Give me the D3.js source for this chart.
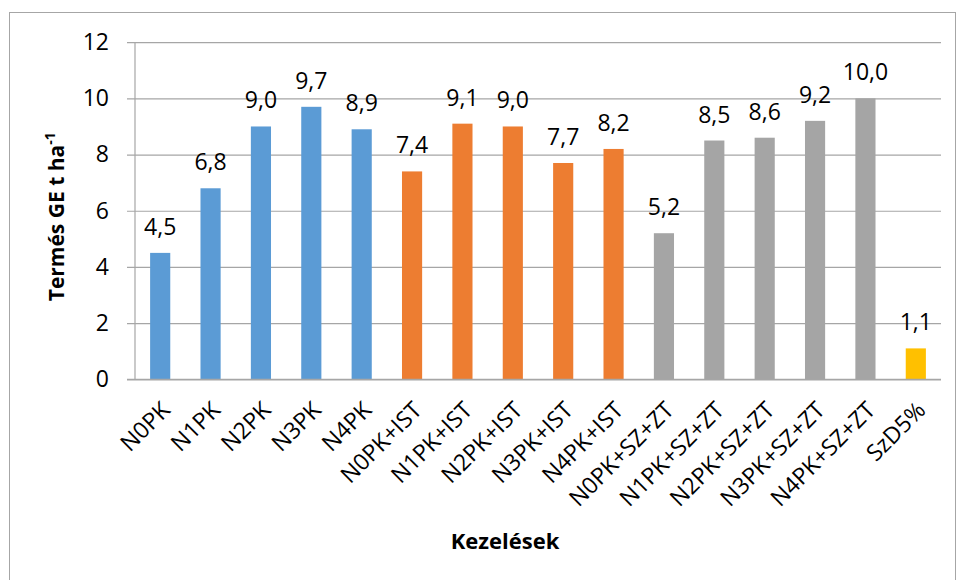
<!DOCTYPE html>
<html>
<head>
<meta charset="utf-8">
<script src="https://cdn.jsdelivr.net/npm/d3@7"></script>
<style>
  html, body { margin: 0; padding: 0; background: #fff; }
  svg { display: block; }
  text { font-family: "Open Sans", "Liberation Sans", sans-serif; fill: #000; }
</style>
</head>
<body>
<svg id="chart" width="957" height="580"></svg>
<script>
// Treatments and yields (t/ha)
const categories = [
  "N0PK", "N1PK", "N2PK", "N3PK", "N4PK",
  "N0PK+IST", "N1PK+IST", "N2PK+IST", "N3PK+IST", "N4PK+IST",
  "N0PK+SZ+ZT", "N1PK+SZ+ZT", "N2PK+SZ+ZT", "N3PK+SZ+ZT", "N4PK+SZ+ZT",
  "SzD5%"
];
const yields = [4.5, 6.8, 9.0, 9.7, 8.9, 7.4, 9.1, 9.0, 7.7, 8.2, 5.2, 8.5, 8.6, 9.2, 10.0, 1.1];
const groups = ["base", "base", "base", "base", "base",
  "ist", "ist", "ist", "ist", "ist",
  "szzt", "szzt", "szzt", "szzt", "szzt",
  "lsd"];
const groupColors = { base: "#5B9BD5", ist: "#ED7D31", szzt: "#A5A5A5", lsd: "#FFC000" };
const yTicks = [0, 2, 4, 6, 8, 10, 12];
const yTitle = "Termés GE t ha";
const xTitle = "Kezelések";

const svg = d3.select("#chart");
const W = 957, H = 580;
const plot = { left: 135, right: 941, top: 42.2, bottom: 379.3 };

// chart frame
svg.append("rect")
  .attr("x", 9.5).attr("y", 12.5)
  .attr("width", W - 11).attr("height", H + 20)
  .attr("fill", "none").attr("stroke", "#A6A6A6").attr("stroke-width", 1);

const x = d3.scaleBand()
  .domain(categories)
  .range([plot.left, plot.right])
  .paddingInner(0.6)
  .paddingOuter(0.3);

const y = d3.scaleLinear().domain([0, 12]).range([plot.bottom, plot.top]);

// gridlines + left axis ticks
const yAxis = d3.axisLeft(y).tickValues(yTicks).tickSize(-(plot.right - plot.left)).tickPadding(26).tickFormat(d3.format("d"));
const gy = svg.append("g").attr("transform", `translate(${plot.left},0)`).call(yAxis);
gy.select(".domain").remove();
gy.selectAll(".tick line").attr("stroke", "#A6A6A6").attr("stroke-width", 1.2).attr("x1", -8);
gy.selectAll(".tick text").attr("font-size", 23).attr("fill", "#000")
  .attr("font-family", "'Open Sans', sans-serif");

// vertical axis line
svg.append("line")
  .attr("x1", plot.left).attr("x2", plot.left)
  .attr("y1", plot.top).attr("y2", plot.bottom)
  .attr("stroke", "#A6A6A6").attr("stroke-width", 1.2);

// bars
svg.append("g").selectAll("rect")
  .data(categories)
  .join("rect")
  .attr("x", d => x(d))
  .attr("width", x.bandwidth())
  .attr("y", (d, i) => y(yields[i]))
  .attr("height", (d, i) => y(0) - y(yields[i]))
  .attr("fill", (d, i) => groupColors[groups[i]]);

// baseline drawn over the bars
svg.append("line")
  .attr("x1", plot.left - 8).attr("x2", plot.right)
  .attr("y1", y(0)).attr("y2", y(0))
  .attr("stroke", "#A6A6A6").attr("stroke-width", 1.2);

// value labels
const fmt = v => d3.format(".1f")(v).replace(".", ",");
svg.append("g").selectAll("text")
  .data(categories)
  .join("text")
  .attr("x", d => x(d) + x.bandwidth() / 2)
  .attr("y", (d, i) => y(yields[i]) - 18)
  .attr("text-anchor", "middle")
  .attr("font-size", 23)
  .text((d, i) => fmt(yields[i]));

// category labels, rotated
svg.append("g").selectAll("text")
  .data(categories)
  .join("text")
  .attr("transform", d => `translate(${x(d) + x.bandwidth() / 2 - 1},${plot.bottom + 20}) rotate(-45)`)
  .attr("text-anchor", "end")
  .attr("dy", "0.75em")
  .attr("font-size", 23)
  .text(d => d);

// axis titles
const yt = svg.append("text")
  .attr("transform", `translate(64,${(plot.top + plot.bottom) / 2 + 6}) rotate(-90)`)
  .attr("text-anchor", "middle")
  .attr("font-size", 21)
  .attr("font-weight", "bold");
yt.append("tspan").text(yTitle);
yt.append("tspan").attr("dy", -9).attr("font-size", 14).text("-1");

svg.append("text")
  .attr("x", 505).attr("y", 549)
  .attr("text-anchor", "middle")
  .attr("font-size", 22)
  .attr("font-weight", "bold")
  .text(xTitle);
</script>
</body>
</html>
